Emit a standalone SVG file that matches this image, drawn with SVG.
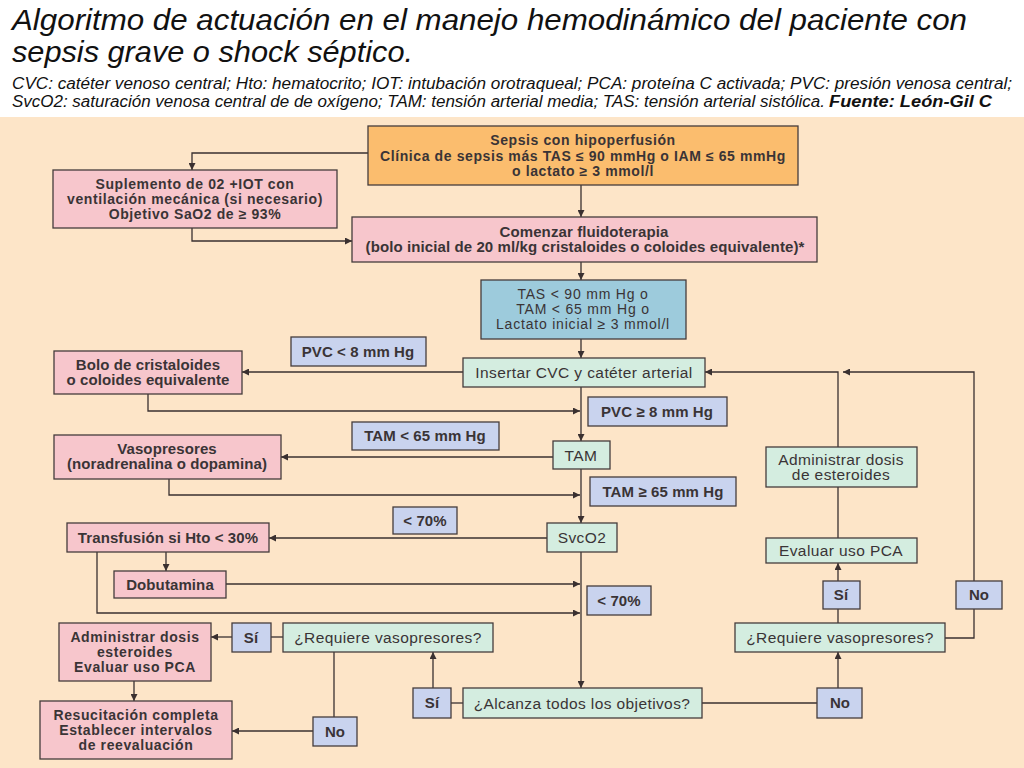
<svg xmlns="http://www.w3.org/2000/svg" width="1024" height="768" viewBox="0 0 1024 768">
<defs>
<marker id="ah" markerUnits="userSpaceOnUse" markerWidth="8" markerHeight="7" refX="7" refY="3.5" orient="auto">
<path d="M0,0 L7,3.5 L0,7 z" fill="#3a3030"/>
</marker>
<style>
.bx{stroke:#463c3c;stroke-width:1.3}
.or{fill:#fbbd6e}.pk{fill:#f7c6cc}.mt{fill:#d4ede0}.lv{fill:#c9d3ee}.bl{fill:#9dcbdc}
text{font-family:"Liberation Sans",Arial,sans-serif;font-size:15.5px;letter-spacing:0.4px;fill:#3a3436;text-anchor:middle}
.b{font-weight:bold;font-size:15px;letter-spacing:0.1px}
.b3{font-weight:bold;font-size:14px;letter-spacing:0.6px}
.r3{font-size:14px;letter-spacing:0.8px}
.hd{text-anchor:start;font-style:italic;fill:#111;letter-spacing:0}
.cn path{fill:none;stroke:#3a3030;stroke-width:1.3}
.cn .a{marker-end:url(#ah)}
</style>
</defs>
<rect x="0" y="0" width="1024" height="117" fill="#ffffff"/>
<rect x="0" y="117" width="1024" height="651" fill="#fde5c8"/>
<g id="header">
<text class="hd" x="12" y="30" textLength="955" lengthAdjust="spacingAndGlyphs" style="font-size:29px">Algoritmo de actuación en el manejo hemodinámico del paciente con</text>
<text class="hd" x="12" y="62" textLength="401" lengthAdjust="spacingAndGlyphs" style="font-size:29px">sepsis grave o shock séptico.</text>
<text class="hd" x="12" y="89" textLength="1000" lengthAdjust="spacingAndGlyphs" style="font-size:16px">CVC: catéter venoso central; Hto: hematocrito; IOT: intubación orotraqueal; PCA: proteína C activada; PVC: presión venosa central;</text>
<text class="hd" x="12" y="107" textLength="813" lengthAdjust="spacingAndGlyphs" style="font-size:16px">SvcO2: saturación venosa central de de oxígeno; TAM: tensión arterial media; TAS: tensión arterial sistólica.</text>
<text class="hd" x="829" y="107" textLength="163" lengthAdjust="spacingAndGlyphs" style="font-size:16px;font-weight:bold">Fuente: León-Gil C</text>
</g>
<g class="cn" id="connectors">
<path class="a" d="M368,153 H192 V170"/>
<path class="a" d="M581,185 V217"/>
<path class="a" d="M192,228 V241 H352"/>
<path class="a" d="M581,262 V280"/>
<path class="a" d="M581,339 V358"/>
<path class="a" d="M463,372 H242"/>
<path class="a" d="M581,387 V441"/>
<path class="a" d="M148,394 V411 H580"/>
<path class="a" d="M553,457 H281"/>
<path class="a" d="M169,479 V495 H580"/>
<path class="a" d="M581,469 V523"/>
<path class="a" d="M547,538 H269"/>
<path class="a" d="M166,552 V571"/>
<path class="a" d="M226,584 H580"/>
<path class="a" d="M97,552 V613 H580"/>
<path class="a" d="M581,552 V688"/>
<path d="M463,703 H451"/>
<path class="a" d="M433,688 V652"/>
<path d="M283,637 H271"/>
<path class="a" d="M232,637 H211"/>
<path class="a" d="M134,681 V701"/>
<path d="M334,652 V717"/>
<path class="a" d="M313,731 H232"/>
<path d="M702,703 H817"/>
<path class="a" d="M838,688 V652"/>
<path d="M838,623 V609"/>
<path class="a" d="M838,581 V563"/>
<path d="M838,538 V487"/>
<path class="a" d="M838,447 V372 H705"/>
<path d="M945,638 H974 V609"/>
<path class="a" d="M974,581 V372 H843"/>
</g>
<g id="sepsis"><rect class="bx or" x="368" y="126" width="430" height="59"/>
<text class="b3" x="583" y="145">Sepsis con hipoperfusión</text>
<text class="b3" x="583" y="161">Clínica de sepsis más TAS ≤ 90 mmHg o IAM ≤ 65 mmHg</text>
<text class="b3" x="583" y="176">o lactato ≥ 3 mmol/l</text></g>
<g id="suplemento"><rect class="bx pk" x="53" y="170" width="284" height="58"/>
<text class="b3" x="195" y="189">Suplemento de 02 +IOT con</text>
<text class="b3" x="195" y="204">ventilación mecánica (si necesario)</text>
<text class="b3" x="195" y="219">Objetivo SaO2 de ≥ 93%</text></g>
<g id="fluidoterapia"><rect class="bx pk" x="352" y="217" width="465" height="45"/>
<text class="b" x="584" y="237">Comenzar fluidoterapia</text>
<text class="b" x="585" y="252">(bolo inicial de 20 ml/kg cristaloides o coloides equivalente)*</text></g>
<g id="tas"><rect class="bx bl" x="481" y="280" width="205" height="59"/>
<text class="r3" x="583" y="299">TAS &lt; 90 mm Hg o</text>
<text class="r3" x="583" y="314">TAM &lt; 65 mm Hg o</text>
<text class="r3" x="583" y="329">Lactato inicial ≥ 3 mmol/l</text></g>
<g id="pvc-low"><rect class="bx lv" x="291" y="337" width="135" height="29"/>
<text class="b" x="358" y="357">PVC &lt; 8 mm Hg</text></g>
<g id="bolo"><rect class="bx pk" x="54" y="351" width="188" height="43"/>
<text class="b" x="148" y="370">Bolo de cristaloides</text>
<text class="b" x="148" y="385">o coloides equivalente</text></g>
<g id="insertar"><rect class="bx mt" x="463" y="358" width="242" height="29"/>
<text x="584" y="378">Insertar CVC y catéter arterial</text></g>
<g id="pvc-high"><rect class="bx lv" x="588" y="397" width="139" height="29"/>
<text class="b" x="657" y="417">PVC ≥ 8 mm Hg</text></g>
<g id="tam-low"><rect class="bx lv" x="352" y="422" width="147" height="28"/>
<text class="b" x="425" y="441">TAM &lt; 65 mm Hg</text></g>
<g id="vasopresores"><rect class="bx pk" x="54" y="435" width="227" height="44"/>
<text class="b" x="167" y="454">Vasopresores</text>
<text class="b" x="167" y="469">(noradrenalina o dopamina)</text></g>
<g id="tam"><rect class="bx mt" x="553" y="441" width="57" height="28"/>
<text x="581" y="461">TAM</text></g>
<g id="esteroides-r"><rect class="bx mt" x="766" y="447" width="151" height="40"/>
<text x="841" y="465">Administrar dosis</text>
<text x="841" y="480">de esteroides</text></g>
<g id="tam-high"><rect class="bx lv" x="590" y="477" width="146" height="29"/>
<text class="b" x="663" y="497">TAM ≥ 65 mm Hg</text></g>
<g id="svc-low1"><rect class="bx lv" x="393" y="507" width="64" height="27"/>
<text class="b" x="425" y="526">&lt; 70%</text></g>
<g id="transfusion"><rect class="bx pk" x="67" y="523" width="202" height="29"/>
<text class="b" x="168" y="543">Transfusión si Hto &lt; 30%</text></g>
<g id="svco2"><rect class="bx mt" x="547" y="523" width="70" height="29"/>
<text x="582" y="543">SvcO2</text></g>
<g id="evaluar-pca"><rect class="bx mt" x="766" y="538" width="151" height="25"/>
<text x="841" y="556">Evaluar uso PCA</text></g>
<g id="dobutamina"><rect class="bx pk" x="114" y="571" width="112" height="27"/>
<text class="b" x="170" y="590">Dobutamina</text></g>
<g id="svc-low2"><rect class="bx lv" x="587" y="586" width="64" height="29"/>
<text class="b" x="619" y="606">&lt; 70%</text></g>
<g id="si-r"><rect class="bx lv" x="823" y="581" width="37" height="28"/>
<text class="b" x="841" y="600">Sí</text></g>
<g id="no-r"><rect class="bx lv" x="956" y="581" width="46" height="28"/>
<text class="b" x="979" y="600">No</text></g>
<g id="esteroides-l"><rect class="bx pk" x="59" y="623" width="152" height="58"/>
<text class="b3" x="135" y="642">Administrar dosis</text>
<text class="b3" x="135" y="657">esteroides</text>
<text class="b3" x="135" y="672">Evaluar uso PCA</text></g>
<g id="si-l"><rect class="bx lv" x="232" y="623" width="39" height="29"/>
<text class="b" x="251" y="643">Sí</text></g>
<g id="requiere-l"><rect class="bx mt" x="283" y="623" width="210" height="29"/>
<text x="388" y="643">¿Requiere vasopresores?</text></g>
<g id="requiere-r"><rect class="bx mt" x="735" y="623" width="210" height="29"/>
<text x="840" y="643">¿Requiere vasopresores?</text></g>
<g id="resucitacion"><rect class="bx pk" x="40" y="701" width="192" height="58"/>
<text class="b3" x="136" y="720">Resucitación completa</text>
<text class="b3" x="136" y="735">Establecer intervalos</text>
<text class="b3" x="136" y="750">de reevaluación</text></g>
<g id="no-l"><rect class="bx lv" x="313" y="717" width="44" height="29"/>
<text class="b" x="335" y="737">No</text></g>
<g id="si-b"><rect class="bx lv" x="413" y="688" width="38" height="30"/>
<text class="b" x="432" y="708">Sí</text></g>
<g id="alcanza"><rect class="bx mt" x="463" y="688" width="239" height="30"/>
<text x="582" y="709">¿Alcanza todos los objetivos?</text></g>
<g id="no-b"><rect class="bx lv" x="817" y="688" width="45" height="30"/>
<text class="b" x="840" y="708">No</text></g>
</svg>
